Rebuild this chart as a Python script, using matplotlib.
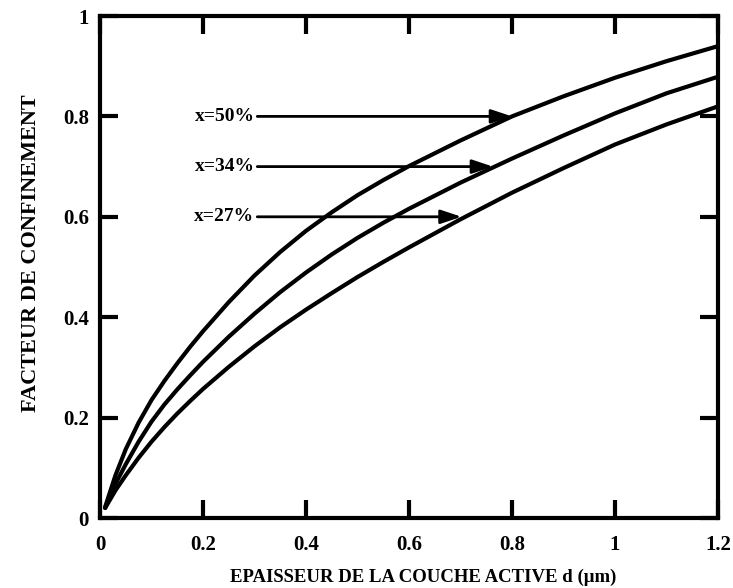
import matplotlib
matplotlib.use("Agg")
import matplotlib.pyplot as plt
from matplotlib.ticker import FuncFormatter

# Data
d_um = [0.01, 0.03, 0.05, 0.075, 0.1, 0.125, 0.15, 0.175, 0.2, 0.25, 0.3, 0.35,
        0.4, 0.45, 0.5, 0.55, 0.6, 0.7, 0.8, 0.9, 1.0, 1.1, 1.2]
gamma_50 = [0.022, 0.085, 0.137, 0.19, 0.235, 0.273, 0.308, 0.341, 0.372, 0.43, 0.483, 0.53,
            0.572, 0.609, 0.643, 0.673, 0.701, 0.752, 0.80, 0.84, 0.877, 0.91, 0.94]
gamma_34 = [0.02, 0.068, 0.107, 0.152, 0.192, 0.226, 0.256, 0.284, 0.311, 0.361, 0.407, 0.45,
            0.489, 0.525, 0.558, 0.588, 0.616, 0.668, 0.716, 0.762, 0.806, 0.846, 0.879]
gamma_27 = [0.02, 0.055, 0.085, 0.12, 0.152, 0.181, 0.208, 0.233, 0.257, 0.301, 0.342, 0.38,
            0.415, 0.448, 0.48, 0.51, 0.539, 0.595, 0.648, 0.697, 0.744, 0.784, 0.82]

labels = ["x=50%", "x=34%", "x=27%"]
arrow_y = [0.8, 0.7, 0.6]
arrow_tip_x = [0.80, 0.763, 0.702]
text_x = 0.30

xticks = [0, 0.2, 0.4, 0.6, 0.8, 1.0, 1.2]
yticks = [0, 0.2, 0.4, 0.6, 0.8, 1.0]

plt.rcParams['font.family'] = ['Liberation Serif', 'DejaVu Serif']
plt.rcParams['font.weight'] = 'bold'

fig = plt.figure(figsize=(7.33, 5.88), dpi=100)
ax = fig.add_axes([100/733, 1-518/588, 618/733, 502/588])

for g in (gamma_50, gamma_34, gamma_27):
    ax.plot(d_um, g, color='black', lw=3.0, solid_capstyle='round',
            solid_joinstyle='round')

for lab, y, tx in zip(labels, arrow_y, arrow_tip_x):
    ax.annotate(lab, xy=(tx, y), xytext=(text_x, y), ha='right', va='center',
                fontsize=14, fontweight='bold',
                arrowprops=dict(arrowstyle='-|>,head_length=0.9,head_width=0.3',
                                color='black', lw=2.0, shrinkA=0, shrinkB=0))

ax.set_xlim(0, 1.2)
ax.set_ylim(0, 1.0)
ax.set_xticks(xticks)
ax.set_yticks(yticks)
fmt = FuncFormatter(lambda v, p: ('%g' % v))
ax.xaxis.set_major_formatter(fmt)
ax.yaxis.set_major_formatter(fmt)

ax.tick_params(direction='in', length=13, width=3, top=True, right=True,
               labelsize=15)
ax.tick_params(axis='x', pad=12)
ax.tick_params(axis='y', pad=8)
for lbl in ax.get_xticklabels() + ax.get_yticklabels():
    lbl.set_fontweight('bold')
for s in ax.spines.values():
    s.set_linewidth(3)

ax.set_xlabel('EPAISSEUR DE LA COUCHE ACTIVE d (\u03bcm)', fontsize=13.5,
              fontweight='bold', labelpad=10)
ax.xaxis.label.set_x((423 - 100) / 618)
ax.set_ylabel('FACTEUR DE CONFINEMENT', fontsize=16, fontweight='bold',
              labelpad=16)
ax.yaxis.label.set_y((518 - 253) / 502)

fig.savefig('out.png', dpi=100)
